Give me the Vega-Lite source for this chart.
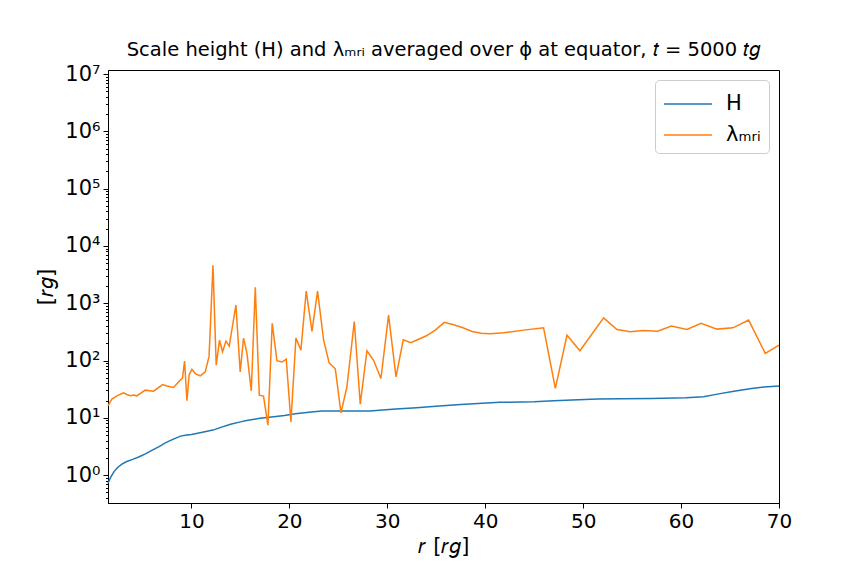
{
  "$schema": "https://vega.github.io/schema/vega-lite/v6.json",
  "autosize": "none",
  "width": 671,
  "height": 433,
  "padding": {"left": 108, "top": 70, "right": 85, "bottom": 73},
  "background": "white",
  "title": {
    "text": "Scale height (H) and λₘᵣᵢ averaged over ϕ at equator, 𝑡 = 5000 𝑡𝑔",
    "fontSize": 19.5,
    "fontWeight": "normal",
    "font": "DejaVu Sans",
    "color": "black",
    "offset": 3,
    "anchor": "middle"
  },
  "config": {
    "font": "DejaVu Sans",
    "view": {"stroke": "black", "strokeWidth": 1},
    "axis": {
      "grid": false,
      "domainColor": "black",
      "tickColor": "black",
      "labelColor": "black",
      "titleColor": "black",
      "labelFont": "DejaVu Sans",
      "titleFont": "DejaVu Sans",
      "labelFontSize": 20,
      "titleFontSize": 21,
      "titleFontWeight": "normal"
    },
    "legend": {
      "labelFont": "DejaVu Sans",
      "labelFontSize": 21,
      "labelColor": "black"
    }
  },
  "data": {
    "values": [
      {"r": 1.48, "v": 0.72, "s": "H"},
      {"r": 1.8, "v": 0.95, "s": "H"},
      {"r": 2.1, "v": 1.15, "s": "H"},
      {"r": 2.46, "v": 1.36, "s": "H"},
      {"r": 2.9, "v": 1.55, "s": "H"},
      {"r": 3.34, "v": 1.71, "s": "H"},
      {"r": 4.0, "v": 1.88, "s": "H"},
      {"r": 4.67, "v": 2.09, "s": "H"},
      {"r": 5.3, "v": 2.35, "s": "H"},
      {"r": 6.0, "v": 2.73, "s": "H"},
      {"r": 6.7, "v": 3.15, "s": "H"},
      {"r": 7.33, "v": 3.66, "s": "H"},
      {"r": 8.1, "v": 4.2, "s": "H"},
      {"r": 8.88, "v": 4.79, "s": "H"},
      {"r": 9.5, "v": 5.0, "s": "H"},
      {"r": 10.0, "v": 5.13, "s": "H"},
      {"r": 11.0, "v": 5.55, "s": "H"},
      {"r": 12.2, "v": 6.1, "s": "H"},
      {"r": 13.0, "v": 6.8, "s": "H"},
      {"r": 14.0, "v": 7.7, "s": "H"},
      {"r": 15.0, "v": 8.5, "s": "H"},
      {"r": 15.76, "v": 9.1, "s": "H"},
      {"r": 17.0, "v": 9.8, "s": "H"},
      {"r": 18.4, "v": 10.4, "s": "H"},
      {"r": 19.5, "v": 11.0, "s": "H"},
      {"r": 20.6, "v": 11.8, "s": "H"},
      {"r": 22.0, "v": 12.5, "s": "H"},
      {"r": 23.3, "v": 13.1, "s": "H"},
      {"r": 25.5, "v": 13.1, "s": "H"},
      {"r": 28.2, "v": 13.1, "s": "H"},
      {"r": 30.85, "v": 14.2, "s": "H"},
      {"r": 33.0, "v": 15.0, "s": "H"},
      {"r": 35.3, "v": 16.0, "s": "H"},
      {"r": 37.5, "v": 17.0, "s": "H"},
      {"r": 39.7, "v": 17.9, "s": "H"},
      {"r": 41.5, "v": 18.6, "s": "H"},
      {"r": 45.0, "v": 19.1, "s": "H"},
      {"r": 47.0, "v": 19.8, "s": "H"},
      {"r": 49.5, "v": 20.6, "s": "H"},
      {"r": 51.5, "v": 21.2, "s": "H"},
      {"r": 53.9, "v": 21.6, "s": "H"},
      {"r": 57.0, "v": 21.8, "s": "H"},
      {"r": 60.5, "v": 22.5, "s": "H"},
      {"r": 62.3, "v": 23.4, "s": "H"},
      {"r": 63.7, "v": 25.9, "s": "H"},
      {"r": 65.4, "v": 29.2, "s": "H"},
      {"r": 67.2, "v": 32.6, "s": "H"},
      {"r": 68.5, "v": 34.5, "s": "H"},
      {"r": 70.0, "v": 35.8, "s": "H"},
      {"r": 1.48, "v": 16.2, "s": "λₘᵣᵢ"},
      {"r": 1.88, "v": 21.3, "s": "λₘᵣᵢ"},
      {"r": 2.39, "v": 24.2, "s": "λₘᵣᵢ"},
      {"r": 3.06, "v": 27.3, "s": "λₘᵣᵢ"},
      {"r": 3.4, "v": 25.5, "s": "λₘᵣᵢ"},
      {"r": 3.75, "v": 24.2, "s": "λₘᵣᵢ"},
      {"r": 4.1, "v": 25.0, "s": "λₘᵣᵢ"},
      {"r": 4.43, "v": 24.2, "s": "λₘᵣᵢ"},
      {"r": 5.28, "v": 30.4, "s": "λₘᵣᵢ"},
      {"r": 6.13, "v": 29.2, "s": "λₘᵣᵢ"},
      {"r": 7.05, "v": 38.1, "s": "λₘᵣᵢ"},
      {"r": 7.5, "v": 36.0, "s": "λₘᵣᵢ"},
      {"r": 8.17, "v": 33.9, "s": "λₘᵣᵢ"},
      {"r": 8.75, "v": 43.6, "s": "λₘᵣᵢ"},
      {"r": 9.09, "v": 49.8, "s": "λₘᵣᵢ"},
      {"r": 9.3, "v": 97.7, "s": "λₘᵣᵢ"},
      {"r": 9.54, "v": 19.8, "s": "λₘᵣᵢ"},
      {"r": 9.77, "v": 56.9, "s": "λₘᵣᵢ"},
      {"r": 10.05, "v": 70.1, "s": "λₘᵣᵢ"},
      {"r": 10.39, "v": 59.2, "s": "λₘᵣᵢ"},
      {"r": 10.9, "v": 53.9, "s": "λₘᵣᵢ"},
      {"r": 11.41, "v": 63.3, "s": "λₘᵣᵢ"},
      {"r": 11.8, "v": 118, "s": "λₘᵣᵢ"},
      {"r": 12.2, "v": 4570, "s": "λₘᵣᵢ"},
      {"r": 12.53, "v": 83, "s": "λₘᵣᵢ"},
      {"r": 12.87, "v": 226, "s": "λₘᵣᵢ"},
      {"r": 13.18, "v": 142, "s": "λₘᵣᵢ"},
      {"r": 13.52, "v": 218, "s": "λₘᵣᵢ"},
      {"r": 13.86, "v": 179, "s": "λₘᵣᵢ"},
      {"r": 14.54, "v": 930, "s": "λₘᵣᵢ"},
      {"r": 14.98, "v": 63.3, "s": "λₘᵣᵢ"},
      {"r": 15.32, "v": 246, "s": "λₘᵣᵢ"},
      {"r": 15.67, "v": 133, "s": "λₘᵣᵢ"},
      {"r": 16.11, "v": 29.6, "s": "λₘᵣᵢ"},
      {"r": 16.52, "v": 1890, "s": "λₘᵣᵢ"},
      {"r": 16.93, "v": 24.9, "s": "λₘᵣᵢ"},
      {"r": 17.36, "v": 23.9, "s": "λₘᵣᵢ"},
      {"r": 17.81, "v": 7.45, "s": "λₘᵣᵢ"},
      {"r": 18.25, "v": 445, "s": "λₘᵣᵢ"},
      {"r": 18.73, "v": 99, "s": "λₘᵣᵢ"},
      {"r": 19.24, "v": 94, "s": "λₘᵣᵢ"},
      {"r": 19.68, "v": 106, "s": "λₘᵣᵢ"},
      {"r": 20.16, "v": 8.5, "s": "λₘᵣᵢ"},
      {"r": 20.67, "v": 246, "s": "λₘᵣᵢ"},
      {"r": 21.18, "v": 152, "s": "λₘᵣᵢ"},
      {"r": 21.72, "v": 1630, "s": "λₘᵣᵢ"},
      {"r": 22.31, "v": 322, "s": "λₘᵣᵢ"},
      {"r": 22.88, "v": 1630, "s": "λₘᵣᵢ"},
      {"r": 23.5, "v": 226, "s": "λₘᵣᵢ"},
      {"r": 24.07, "v": 90, "s": "λₘᵣᵢ"},
      {"r": 24.69, "v": 71.8, "s": "λₘᵣᵢ"},
      {"r": 25.27, "v": 12.2, "s": "λₘᵣᵢ"},
      {"r": 25.88, "v": 34.8, "s": "λₘᵣᵢ"},
      {"r": 26.63, "v": 479, "s": "λₘᵣᵢ"},
      {"r": 27.24, "v": 17.3, "s": "λₘᵣᵢ"},
      {"r": 27.92, "v": 148, "s": "λₘᵣᵢ"},
      {"r": 28.6, "v": 101, "s": "λₘᵣᵢ"},
      {"r": 29.35, "v": 48.6, "s": "λₘᵣᵢ"},
      {"r": 30.13, "v": 620, "s": "λₘᵣᵢ"},
      {"r": 30.89, "v": 51.8, "s": "λₘᵣᵢ"},
      {"r": 31.63, "v": 230, "s": "λₘᵣᵢ"},
      {"r": 32.4, "v": 205, "s": "λₘᵣᵢ"},
      {"r": 33.2, "v": 235, "s": "λₘᵣᵢ"},
      {"r": 34.0, "v": 270, "s": "λₘᵣᵢ"},
      {"r": 34.9, "v": 340, "s": "λₘᵣᵢ"},
      {"r": 35.82, "v": 463, "s": "λₘᵣᵢ"},
      {"r": 36.77, "v": 420, "s": "λₘᵣᵢ"},
      {"r": 37.73, "v": 372, "s": "λₘᵣᵢ"},
      {"r": 38.65, "v": 320, "s": "λₘᵣᵢ"},
      {"r": 39.6, "v": 298, "s": "λₘᵣᵢ"},
      {"r": 40.5, "v": 292, "s": "λₘᵣᵢ"},
      {"r": 41.88, "v": 304, "s": "λₘᵣᵢ"},
      {"r": 43.92, "v": 339, "s": "λₘᵣᵢ"},
      {"r": 45.96, "v": 372, "s": "λₘᵣᵢ"},
      {"r": 47.16, "v": 32.6, "s": "λₘᵣᵢ"},
      {"r": 48.35, "v": 276, "s": "λₘᵣᵢ"},
      {"r": 49.67, "v": 148, "s": "λₘᵣᵢ"},
      {"r": 52.09, "v": 556, "s": "λₘᵣᵢ"},
      {"r": 53.46, "v": 347, "s": "λₘᵣᵢ"},
      {"r": 54.8, "v": 318, "s": "λₘᵣᵢ"},
      {"r": 56.17, "v": 335, "s": "λₘᵣᵢ"},
      {"r": 57.6, "v": 325, "s": "λₘᵣᵢ"},
      {"r": 59.01, "v": 398, "s": "λₘᵣᵢ"},
      {"r": 60.6, "v": 347, "s": "λₘᵣᵢ"},
      {"r": 62.04, "v": 444, "s": "λₘᵣᵢ"},
      {"r": 63.67, "v": 353, "s": "λₘᵣᵢ"},
      {"r": 65.3, "v": 372, "s": "λₘᵣᵢ"},
      {"r": 66.9, "v": 508, "s": "λₘᵣᵢ"},
      {"r": 68.6, "v": 133, "s": "λₘᵣᵢ"},
      {"r": 70.0, "v": 186, "s": "λₘᵣᵢ"}
    ]
  },
  "mark": {"type": "line", "strokeWidth": 1.5, "interpolate": "linear"},
  "encoding": {
    "x": {
      "field": "r",
      "type": "quantitative",
      "scale": {"domain": [1.48, 70], "nice": false, "zero": false},
      "axis": {
        "title": "𝑟 [𝑟𝑔]",
        "values": [10, 20, 30, 40, 50, 60, 70],
        "format": "d",
        "tickSize": 5,
        "labelPadding": 3,
        "titlePadding": 4,
        "labelFlush": false
      }
    },
    "y": {
      "field": "v",
      "type": "quantitative",
      "scale": {"type": "log", "domain": [0.326, 11750000], "nice": false},
      "axis": {
        "title": "[𝑟𝑔]",
        "values": [0.4, 0.5, 0.6, 0.7, 0.8, 0.9, 1, 2, 3, 4, 5, 6, 7, 8, 9, 10, 20, 30, 40, 50, 60, 70, 80, 90, 100, 200, 300, 400, 500, 600, 700, 800, 900, 1000, 2000, 3000, 4000, 5000, 6000, 7000, 8000, 9000, 10000, 20000, 30000, 40000, 50000, 60000, 70000, 80000, 90000, 100000, 200000, 300000, 400000, 500000, 600000, 700000, 800000, 900000, 1000000, 2000000, 3000000, 4000000, 5000000, 6000000, 7000000, 8000000, 9000000, 10000000],
        "labelExpr": "abs(log(datum.value)/LN10 - round(log(datum.value)/LN10)) < 0.001 ? '10' + ['⁰','¹','²','³','⁴','⁵','⁶','⁷'][round(log(datum.value)/LN10)] : ''",
        "tickSize": {"condition": {"test": "abs(log(datum.value)/LN10 - round(log(datum.value)/LN10)) < 0.001", "value": 5}, "value": 2.5},
        "labelPadding": 3,
        "titlePadding": 8,
        "labelFontSize": 21
      }
    },
    "color": {
      "field": "s",
      "type": "nominal",
      "scale": {"domain": ["H", "λₘᵣᵢ"], "range": ["#1f77b4", "#ff7f0e"]},
      "legend": {
        "title": null,
        "orient": "top-right",
        "offset": 10,
        "symbolType": "M-1.6,0H1.6",
        "symbolSize": 900,
        "symbolOffset": 9,
        "symbolStrokeWidth": 1.5,
        "strokeColor": "#cccccc",
        "fillColor": "white",
        "cornerRadius": 4,
        "padding": 8,
        "rowPadding": 5,
        "labelOffset": 22
      }
    }
  }
}
